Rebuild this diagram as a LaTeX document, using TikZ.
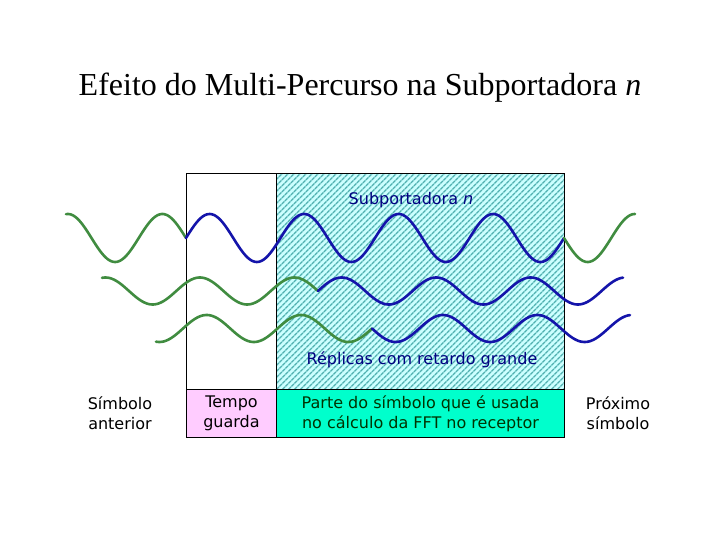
\documentclass[tikz,border=0pt]{standalone}
\usepackage{fontspec}
\setmainfont{Liberation Serif}
\newfontfamily\labfont{DejaVu Sans}
\usetikzlibrary{patterns.meta}
\definecolor{wgreen}{RGB}{64,140,64}
\definecolor{wblue}{RGB}{20,20,170}
\definecolor{hatchbg}{RGB}{204,255,255}
\definecolor{hatchln}{RGB}{80,176,176}
\definecolor{pinkbox}{RGB}{255,204,255}
\definecolor{greenbox}{RGB}{0,255,204}
\definecolor{navytxt}{RGB}{0,0,128}
\definecolor{dgreentxt}{RGB}{0,51,0}
\tikzset{
  wave/.style={line width=2.6pt, line join=round, line cap=round},
  lab/.style={font=\labfont\fontsize{16}{20}\selectfont, align=center, inner sep=0pt},
  boxx/.style={draw=black, line width=1pt, minimum height=48pt, inner sep=0pt, anchor=north west}
}
\begin{document}
\begin{tikzpicture}[x=1pt,y=-1pt]
\useasboundingbox (0,0) rectangle (720,540);
% title
\node[font=\fontsize{32}{36}\selectfont, inner sep=0pt, anchor=base] (title) at (360,96) {Efeito do Multi-Percurso na Subportadora \textit{n}};
% hatched region
\fill[hatchbg] (276,174) rectangle (564,389);
\fill[pattern={Lines[angle=45,distance=4pt,line width=1.4pt]}, pattern color=hatchln] (276,174) rectangle (564,389);
\draw[line width=1pt] (186,174) rectangle (564,389);
\draw[line width=1pt] (276,174) -- (276,389);
% bottom boxes
\node[boxx, fill=pinkbox, minimum width=90pt] (guard) at (186,389) {};
\node[boxx, fill=greenbox, minimum width=288pt] (part) at (276,389) {};
\node[lab] (guardt) at (guard.center) {Tempo\\guarda};
\node[lab, text=dgreentxt] (partt) at (part.center) {Parte do símbolo que é usada\\no cálculo da FFT no receptor};
\node[lab] (prev) at (120,413) {Símbolo\\anterior};
\node[lab] (next) at (618,413) {Próximo\\símbolo};
\node[lab, text=navytxt] (sub) at (411,200) {Subportadora \textit{n}};
\node[lab, text=navytxt] (rep) at (422,360) {Réplicas com retardo grande};
% waves
\def\K{3.8095}
% wave 1
\draw[wave, wgreen] plot[domain=66:186, samples=80] (\x, {238 + 24*sin(\K*(\x-186))});
\draw[wave, wblue] plot[domain=186:564, samples=220] (\x, {238 - 24*sin(\K*(\x-186))});
\draw[wave, wgreen] plot[domain=564:635, samples=50] (\x, {238 + 24*sin(\K*(\x-564))});
% wave 2
\draw[wave, wgreen] plot[domain=102:318, samples=130] (\x, {291 + 13.5*sin(\K*(\x-318))});
\draw[wave, wblue] plot[domain=318:623, samples=180] (\x, {291 - 13.5*sin(\K*(\x-318))});
% wave 3
\draw[wave, wgreen] plot[domain=156:372, samples=130] (\x, {328.5 - 13.5*sin(\K*(\x-372))});
\draw[wave, wblue] plot[domain=372:630, samples=160] (\x, {328.5 + 13.5*sin(\K*(\x-372))});
\end{tikzpicture}
\end{document}
